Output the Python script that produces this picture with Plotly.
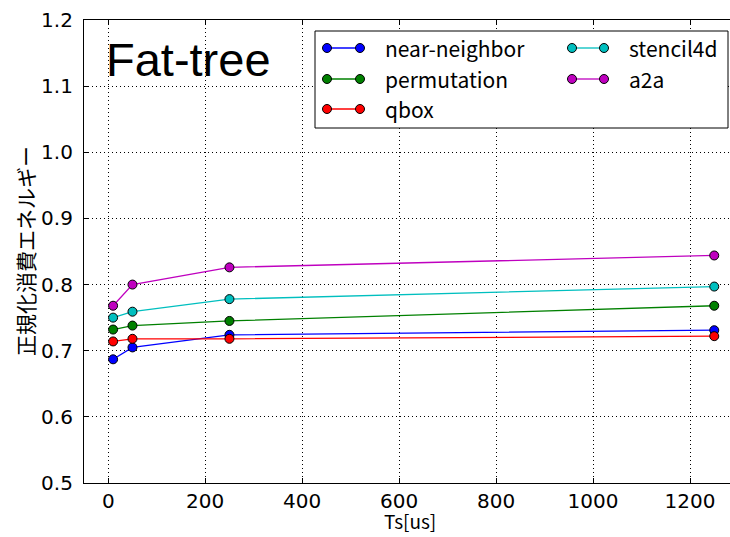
import plotly.graph_objects as go

# Sampling interval Ts [us]
ts_us = [10, 50, 250, 1250]

# Normalized energy per workload
near_neighbor = [0.687, 0.705, 0.724, 0.731]
permutation = [0.732, 0.738, 0.745, 0.768]
qbox = [0.714, 0.718, 0.718, 0.722]
stencil4d = [0.750, 0.759, 0.778, 0.797]
a2a = [0.768, 0.800, 0.826, 0.844]

series_names = ["near-neighbor", "permutation", "qbox", "stencil4d", "a2a"]
series_values = [near_neighbor, permutation, qbox, stencil4d, a2a]
series_colors = ["#0000ff", "#008000", "#ff0000", "#00bfbf", "#bf00bf"]

x_ticks = [0, 200, 400, 600, 800, 1000, 1200]
y_ticks = [0.5, 0.6, 0.7, 0.8, 0.9, 1.0, 1.1, 1.2]

W, H = 730, 537
L, R, T, B = 84, 0, 20, 54
PW, PH = W - L - R, H - T - B


def px(xp):
    return (xp - L) / PW


def py(yp):
    return (H - B - yp) / PH


fig = go.Figure()
for name, vals, col in zip(series_names, series_values, series_colors):
    fig.add_trace(go.Scatter(
        x=ts_us, y=vals, name=name, mode="lines+markers",
        line=dict(color=col, width=1.3),
        marker=dict(symbol="circle", size=9, color=col,
                    line=dict(color="black", width=1)),
        showlegend=False,
    ))

shapes = []
annotations = []

# Legend frame
shapes.append(dict(type="rect", xref="paper", yref="paper",
                   x0=px(315), x1=px(728), y0=py(128), y1=py(31),
                   line=dict(color="black", width=1), fillcolor="white",
                   layer="above"))

legend_layout = [(0, 0), (0, 1), (0, 2), (1, 0), (1, 1)]
col_x = [(327, 360, 384), (572, 604, 628)]
row_y = [48, 79, 109]
for (c, r), name, col in zip(legend_layout, series_names, series_colors):
    xa, xb, xt = col_x[c]
    yy = py(row_y[r])
    shapes.append(dict(type="line", xref="paper", yref="paper",
                       x0=px(xa), x1=px(xb), y0=yy, y1=yy,
                       line=dict(color=col, width=1.3), layer="above"))
    for xm in (xa, xb):
        shapes.append(dict(type="circle", xref="paper", yref="paper",
                           xsizemode="pixel", ysizemode="pixel",
                           xanchor=px(xm), yanchor=yy,
                           x0=-4.5, x1=4.5, y0=-4.5, y1=4.5,
                           fillcolor=col, line=dict(color="black", width=1),
                           layer="above"))
    annotations.append(dict(text=name, xref="paper", yref="paper",
                            x=px(xt - 1), y=yy, xanchor="left",
                            yanchor="middle", showarrow=False,
                            font=dict(family="Noto Sans CJK JP", size=21,
                                      color="black")))

# Panel title
annotations.append(dict(text="Fat-tree", xref="paper", yref="paper",
                        x=px(104), y=py(59), xanchor="left", yanchor="middle",
                        showarrow=False,
                        font=dict(family="Liberation Sans", size=47,
                                  color="black")))

# Axis titles
annotations.append(dict(text="Ts[us]", xref="paper", yref="paper",
                        x=px(410), y=py(536), xanchor="center",
                        yanchor="bottom", showarrow=False,
                        font=dict(family="Noto Sans CJK JP", size=19,
                                  color="black")))
annotations.append(dict(text="正規化消費エネルギー", xref="paper", yref="paper",
                        x=px(25), y=py(251), xanchor="center",
                        yanchor="middle", textangle=-90, showarrow=False,
                        font=dict(family="Noto Sans CJK JP", size=21,
                                  color="black")))

grid_dash = "1px,3px"
tick_font = dict(family="DejaVu Sans", size=20, color="black")
fig.update_layout(
    width=W, height=H,
    margin=dict(l=L, r=R, t=T, b=B, pad=0),
    paper_bgcolor="white", plot_bgcolor="white",
    shapes=shapes, annotations=annotations,
    xaxis=dict(range=[-50, 1282.5], tickmode="array", tickvals=x_ticks,
               ticktext=[str(v) for v in x_ticks],
               showgrid=True, gridcolor="black", gridwidth=1,
               griddash=grid_dash, zeroline=False,
               showline=True, linecolor="black", linewidth=1.2,
               mirror="ticks", ticks="inside", ticklen=5,
               tickcolor="black", ticklabelstandoff=0, tickfont=tick_font),
    yaxis=dict(range=[0.5, 1.2], tickmode="array", tickvals=y_ticks,
               ticktext=[f"{v:.1f}" for v in y_ticks],
               showgrid=True, gridcolor="black", gridwidth=1,
               griddash=grid_dash, zeroline=False,
               showline=True, linecolor="black", linewidth=1.2,
               mirror=False, ticks="inside", ticklen=5,
               tickcolor="black", ticklabelstandoff=6, tickfont=tick_font),
)

fig.write_html("out.html")
